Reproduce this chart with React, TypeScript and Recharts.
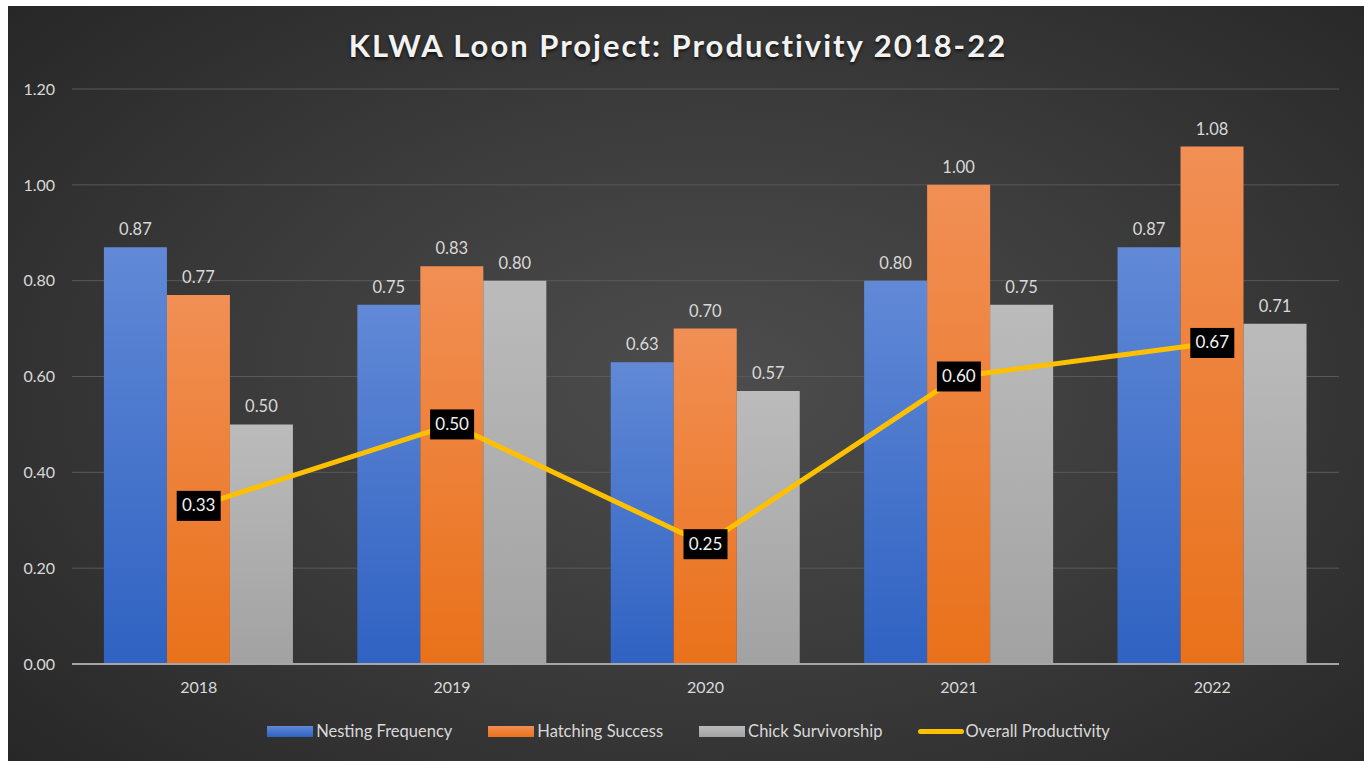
import {
  ComposedChart,
  Bar,
  Line,
  XAxis,
  YAxis,
  CartesianGrid,
  Legend,
  LabelList,
} from "recharts";

const YEARS = ["2018", "2019", "2020", "2021", "2022"];
const NESTING = [0.87, 0.75, 0.63, 0.8, 0.87];
const HATCHING = [0.77, 0.83, 0.7, 1.0, 1.08];
const CHICK = [0.5, 0.8, 0.57, 0.75, 0.71];
const OVERALL = [0.33, 0.5, 0.25, 0.6, 0.67];
const Y_TICKS = [0, 0.2, 0.4, 0.6, 0.8, 1.0, 1.2];

const FONT = "Lato, 'Open Sans', sans-serif";
const TEXT = "#d9d9d9";
const LINE_COLOR = "#ffc000";

const SERIES = [
  { key: "nesting", name: "Nesting Frequency", grad: "gBlue", top: "#6189d6", bottom: "#2f62c2" },
  { key: "hatching", name: "Hatching Success", grad: "gOrange", top: "#f18f55", bottom: "#e9711a" },
  { key: "chick", name: "Chick Survivorship", grad: "gGray", top: "#bbbbbb", bottom: "#a2a2a2" },
];

const data = YEARS.map((year, i) => ({
  year,
  nesting: NESTING[i],
  hatching: HATCHING[i],
  chick: CHICK[i],
  overall: OVERALL[i],
}));

const fmt = (v: any) => Number(v).toFixed(2);

// black box label sitting on each point of the line
function BoxLabel(props: any) {
  const { x, y, value } = props;
  if (x == null || y == null) return null;
  return (
    <g>
      <rect x={x - 22} y={y - 15} width={44} height={30} fill="#000" />
      <text
        x={x}
        y={y + 1}
        textAnchor="middle"
        dominantBaseline="middle"
        fill="#f2f2f2"
        fontSize={17}
        fontFamily={FONT}
      >
        {fmt(value)}
      </text>
    </g>
  );
}

function LegendContent() {
  return (
    <div
      style={{
        height: 40,
        paddingLeft: 30,
        display: "flex",
        justifyContent: "center",
        alignItems: "center",
        gap: 36,
        fontFamily: FONT,
        fontSize: 16.5,
        color: TEXT,
      }}
    >
      {SERIES.map((s) => (
        <div key={s.key} style={{ display: "flex", alignItems: "center", gap: 3 }}>
          <span
            style={{
              width: 46,
              height: 11,
              background: `linear-gradient(${s.top}, ${s.bottom})`,
              display: "inline-block",
            }}
          />
          <span>{s.name}</span>
        </div>
      ))}
      <div style={{ display: "flex", alignItems: "center", gap: 1 }}>
        <span
          style={{
            width: 46,
            height: 5,
            borderRadius: 3,
            background: LINE_COLOR,
            display: "inline-block",
          }}
        />
        <span>Overall Productivity</span>
      </div>
    </div>
  );
}

export default function App() {
  return (
    <div
      style={{
        position: "absolute",
        left: 8,
        top: 6,
        width: 1356,
        height: 755,
        background:
          "radial-gradient(ellipse 70% 75% at 52% 50%, #4d4d4d 0%, #3b3b3b 50%, #272727 100%)",
        overflow: "hidden",
      }}
    >
      <div
        style={{
          position: "absolute",
          top: 21,
          left: -8,
          width: "100%",
          textAlign: "center",
          fontFamily: FONT,
          fontWeight: 700,
          fontSize: 31,
          letterSpacing: 2,
          lineHeight: "37px",
          color: "#f2f2f2",
          textShadow: "0 2px 3px rgba(0,0,0,0.7)",
        }}
      >
        KLWA Loon Project: Productivity 2018-22
      </div>
      <ComposedChart
        width={1356}
        height={755}
        data={data}
        margin={{ top: 83, right: 25, left: 0, bottom: 10 }}
        barCategoryGap="12.6%"
        barGap={0}
      >
        <defs>
          {SERIES.map((s) => (
            <linearGradient key={s.grad} id={s.grad} x1="0" y1="0" x2="0" y2="1">
              <stop offset="0%" stopColor={s.top} />
              <stop offset="100%" stopColor={s.bottom} />
            </linearGradient>
          ))}
        </defs>
        <CartesianGrid vertical={false} stroke="#595959" strokeWidth={1} />
        <XAxis
          dataKey="year"
          height={47}
          axisLine={{ stroke: "#a6a6a6", strokeWidth: 2 }}
          tickLine={false}
          tickSize={0}
          tickMargin={18}
          tick={{ fill: TEXT, fontSize: 16, fontFamily: FONT }}
        />
        <YAxis
          width={64}
          domain={[0, 1.2]}
          ticks={Y_TICKS}
          tickFormatter={fmt}
          axisLine={false}
          tickLine={false}
          tickSize={0}
          tickMargin={17}
          tick={{ fill: TEXT, fontSize: 16, fontFamily: FONT }}
        />
        {SERIES.map((s) => (
          <Bar
            key={s.key}
            dataKey={s.key}
            name={s.name}
            fill={`url(#${s.grad})`}
            isAnimationActive={false}
          >
            <LabelList
              dataKey={s.key}
              position="top"
              offset={12}
              formatter={fmt}
              fill={TEXT}
              fontSize={16.5}
              fontFamily={FONT}
            />
          </Bar>
        ))}
        <Line
          dataKey="overall"
          name="Overall Productivity"
          stroke={LINE_COLOR}
          strokeWidth={5}
          dot={false}
          activeDot={false}
          isAnimationActive={false}
        >
          <LabelList dataKey="overall" content={<BoxLabel />} />
        </Line>
        <Legend verticalAlign="bottom" content={<LegendContent />} />
      </ComposedChart>
    </div>
  );
}
